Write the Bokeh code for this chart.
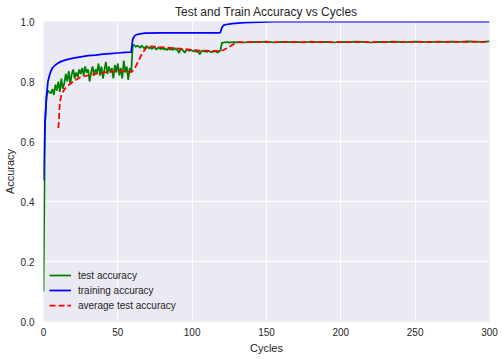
from bokeh.plotting import figure
from bokeh.models import FixedTicker, Legend, LegendItem
from bokeh.embed import file_html
from bokeh.resources import INLINE

# ---- data ----
test_cycles = list(range(0, 131)) + list(range(135, 301, 5))
test_acc = [
    0.10, 0.66, 0.745, 0.77, 0.765, 0.76, 0.775, 0.755, 0.79, 0.77,
    0.80, 0.765, 0.81, 0.775, 0.795, 0.825, 0.80, 0.835, 0.79, 0.825,
    0.84, 0.81, 0.83, 0.815, 0.84, 0.825, 0.845, 0.82, 0.85, 0.83,
    0.84, 0.80, 0.83, 0.85, 0.82, 0.84, 0.83, 0.86, 0.82, 0.85,
    0.81, 0.84, 0.865, 0.825, 0.85, 0.83, 0.845, 0.81, 0.855, 0.83,
    0.86, 0.82, 0.845, 0.81, 0.87, 0.83, 0.85, 0.805, 0.845, 0.83,
    0.92, 0.922, 0.915, 0.92, 0.917, 0.912, 0.92, 0.914, 0.91, 0.918,
    0.916, 0.91, 0.914, 0.908, 0.915, 0.912, 0.906, 0.913, 0.91, 0.908,
    0.912, 0.907, 0.91, 0.904, 0.911, 0.906, 0.909, 0.905, 0.912, 0.906,
    0.908, 0.895, 0.905, 0.907, 0.903, 0.896, 0.904, 0.906, 0.902, 0.905,
    0.903, 0.90, 0.904, 0.898, 0.902, 0.89, 0.899, 0.903, 0.90, 0.901,
    0.898, 0.902, 0.90, 0.897, 0.901, 0.899, 0.902, 0.896, 0.90, 0.903,
    0.93, 0.929, 0.931, 0.93, 0.932, 0.929, 0.931, 0.93, 0.932, 0.93, 0.931,
    0.930, 0.932, 0.931, 0.933, 0.930, 0.932, 0.931, 0.932, 0.930, 0.933,
    0.931, 0.932, 0.930, 0.932, 0.931, 0.933, 0.932, 0.930, 0.932, 0.931,
    0.933, 0.932, 0.931, 0.933, 0.932, 0.931, 0.933, 0.932, 0.933, 0.932,
    0.934, 0.933, 0.932, 0.934,
]

train_cycles = [0, 1, 2, 3, 4, 5, 6, 7, 8, 10, 12, 15, 20, 25, 30, 35, 40, 45,
                50, 55, 59, 60, 61, 62, 64, 68, 80, 100, 118, 119, 120, 121,
                123, 127, 135, 145, 160, 300]
train_acc = [0.47, 0.66, 0.75, 0.80, 0.82, 0.835, 0.845, 0.85, 0.855, 0.862,
             0.867, 0.872, 0.878, 0.882, 0.886, 0.888, 0.891, 0.893, 0.895,
             0.897, 0.898, 0.94, 0.95, 0.955, 0.958, 0.961, 0.962, 0.962,
             0.962, 0.963, 0.98, 0.987, 0.99, 0.993, 0.996, 0.998, 1.0, 1.0]

avg_cycles = [10, 11, 12, 13, 15, 20, 25, 30, 40, 50, 59, 60, 62, 64, 66, 68,
              70, 75, 85, 95, 105, 115, 119, 121, 123, 125, 127, 129, 131, 300]
avg_acc = [0.645, 0.73, 0.755, 0.765, 0.78, 0.80, 0.815, 0.82, 0.83, 0.835,
           0.832, 0.835, 0.85, 0.87, 0.89, 0.905, 0.917, 0.916, 0.912, 0.908,
           0.903, 0.902, 0.902, 0.905, 0.91, 0.915, 0.922, 0.927, 0.931, 0.932]

x_ticks = [0, 50, 100, 150, 200, 250, 300]
y_ticks = [0.0, 0.2, 0.4, 0.6, 0.8, 1.0]
y_tick_labels = ["0.0", "0.2", "0.4", "0.6", "0.8", "1.0"]

TXT = "#262626"
FONT = "Liberation Sans"

p = figure(width=504, height=359, x_range=(0, 300), y_range=(0, 1.0),
           output_backend="svg", toolbar_location=None,
           title="Test and Train Accuracy vs Cycles",
           min_border_left=0, min_border_right=15, min_border_top=0,
           min_border_bottom=38)

p.background_fill_color = "#EAEAF2"
p.border_fill_color = "white"
p.outline_line_color = None

p.title.text_font = FONT
p.title.text_font_size = "12px"
p.title.text_font_style = "normal"
p.title.text_color = TXT
p.title.align = "center"
p.title.standoff = 5
p.title.offset = 0

p.xgrid.grid_line_color = "white"
p.ygrid.grid_line_color = "white"
p.xgrid.grid_line_width = 1
p.ygrid.grid_line_width = 1

for ax in (p.xaxis[0], p.yaxis[0]):
    ax.axis_line_color = None
    ax.major_tick_line_color = None
    ax.minor_tick_line_color = None
    ax.major_tick_out = 0
    ax.major_tick_in = 0
    ax.major_label_text_font = FONT
    ax.major_label_text_font_size = "10px"
    ax.major_label_text_color = TXT
    ax.axis_label_text_font = FONT
    ax.axis_label_text_font_size = "11px"
    ax.axis_label_text_font_style = "normal"
    ax.axis_label_text_color = TXT

p.xaxis.ticker = FixedTicker(ticks=x_ticks)
p.yaxis.ticker = FixedTicker(ticks=y_ticks)
p.yaxis.major_label_overrides = {t: l for t, l in zip(y_ticks, y_tick_labels)}
p.xaxis.axis_label = "Cycles"
p.yaxis.axis_label = "Accuracy"
p.xaxis.major_label_standoff = 6
p.yaxis.major_label_standoff = 9
p.xaxis.axis_label_standoff = 3
p.yaxis.axis_label_standoff = 2

r_test = p.line(test_cycles, test_acc, line_color="#008000", line_width=1.75)
r_train = p.line(train_cycles, train_acc, line_color="#0000FF", line_width=1.75)
r_avg = p.line(avg_cycles, avg_acc, line_color="#FF0000", line_width=1.75,
               line_dash="6 3")

legend = Legend(items=[
    LegendItem(label="test accuracy", renderers=[r_test]),
    LegendItem(label="training accuracy", renderers=[r_train]),
    LegendItem(label="average test accuracy", renderers=[r_avg]),
], location=(6, 10))
legend.background_fill_alpha = 0
legend.border_line_color = None
legend.label_text_font = FONT
legend.label_text_font_size = "10px"
legend.label_text_color = TXT
legend.glyph_width = 22
legend.glyph_height = 12
legend.label_height = 12
legend.spacing = 3
legend.label_standoff = 7
legend.padding = 7
legend.margin = 0
p.add_layout(legend)

open("out.html", "w").write(file_html(p, INLINE))
